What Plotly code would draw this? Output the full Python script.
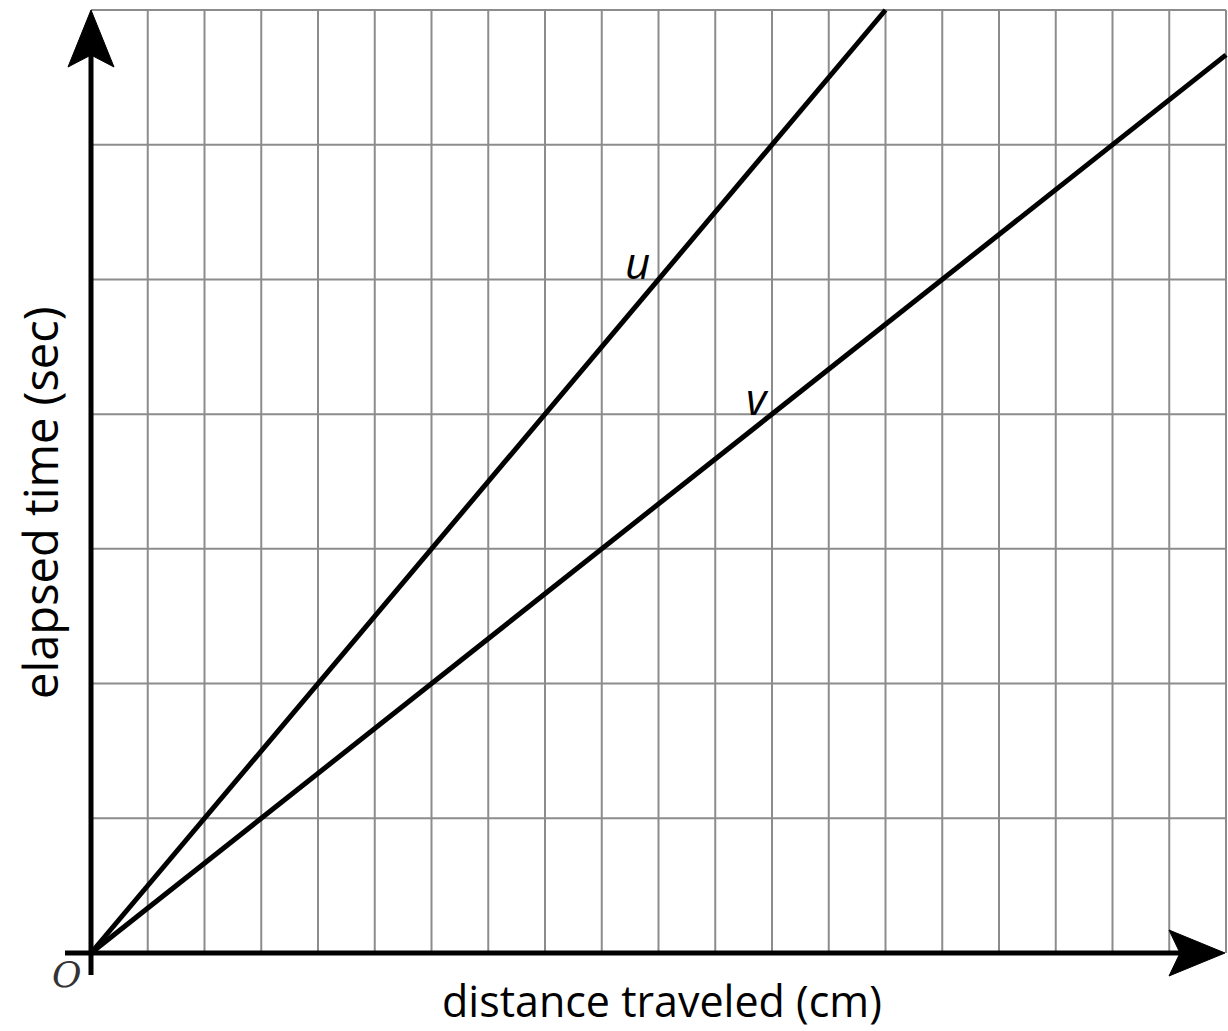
import plotly.graph_objects as go

# Data
distance_u = [0, 14]
time_u = [0, 7]
distance_v = [0, 20]
time_v = [0, 20 / 3]
x_max = 20
y_max = 7
line_labels = ["u", "v"]
label_px = [(637, 262), (757, 398)]

W, H = 1228, 1031
# pixel mapping (reference pixels)
x0_px, x1_px = 91, 1226
y0_px, y1_px = 953, 10
xu = (x1_px - x0_px) / x_max
yu = (y0_px - y1_px) / y_max
x_range = [-x0_px / xu, (W - x0_px) / xu]
y_range = [-(H - y0_px) / yu, y0_px / yu]


def dx(p):
    return (p - x0_px) / xu


def dy(p):
    return (y0_px - p) / yu


fig = go.Figure()

shapes = []
grid_color = "#8c8c8c"
for i in range(1, x_max + 1):
    shapes.append(dict(type="line", x0=i, x1=i, y0=0, y1=y_max, xref="x", yref="y",
                       line=dict(color=grid_color, width=2), layer="below"))
for j in range(1, y_max + 1):
    shapes.append(dict(type="line", x0=0, x1=x_max, y0=j, y1=j, xref="x", yref="y",
                       line=dict(color=grid_color, width=2), layer="below"))

px = lambda p: p / xu
py = lambda p: p / yu
shapes.append(dict(type="line", x0=dx(65), x1=dx(1185), y0=0, y1=0,
                   line=dict(color="black", width=5)))
shapes.append(dict(type="line", x0=0, x1=0, y0=dy(975), y1=dy(50),
                   line=dict(color="black", width=5)))
# arrowheads
tipx = dx(1225)
shapes.append(dict(type="path",
                   path=f"M {tipx} 0 L {dx(1169)} {py(23)} L {dx(1180)} 0 L {dx(1169)} {-py(23)} Z",
                   fillcolor="black", line=dict(color="black", width=1)))
shapes.append(dict(type="path",
                   path=f"M 0 {dy(10)} L {-px(23)} {dy(67)} L 0 {dy(55)} L {px(23)} {dy(67)} Z",
                   fillcolor="black", line=dict(color="black", width=1)))

fig.add_trace(go.Scatter(x=distance_u, y=time_u, mode="lines",
                         line=dict(color="black", width=5), showlegend=False, hoverinfo="skip"))
fig.add_trace(go.Scatter(x=distance_v, y=time_v, mode="lines",
                         line=dict(color="black", width=5), showlegend=False, hoverinfo="skip"))

annotations = []
for lab, (lx, ly) in zip(line_labels, label_px):
    annotations.append(dict(x=dx(lx), y=dy(ly), text=f"<i>{lab}</i>", showarrow=False,
                            font=dict(family="Open Sans", size=44, color="black"),
                            xanchor="center", yanchor="middle"))
annotations.append(dict(x=dx(67), y=dy(974), text="<i>O</i>", showarrow=False,
                        font=dict(family="DejaVu Serif", size=36, color="#333"),
                        xanchor="center", yanchor="middle"))
annotations.append(dict(x=dx(662), y=dy(1000), text="distance traveled (cm)",
                        showarrow=False, font=dict(family="Open Sans", size=43, color="black"),
                        xanchor="center", yanchor="middle"))
annotations.append(dict(x=dx(40), y=dy(503), text="elapsed time (sec)",
                        showarrow=False, textangle=-90,
                        font=dict(family="Open Sans", size=47, color="black"),
                        xanchor="center", yanchor="middle"))

fig.update_layout(
    width=W, height=H,
    margin=dict(l=0, r=0, t=0, b=0),
    paper_bgcolor="white", plot_bgcolor="white",
    xaxis=dict(range=x_range, visible=False, fixedrange=True),
    yaxis=dict(range=y_range, visible=False, fixedrange=True),
    shapes=shapes, annotations=annotations,
)

fig.write_html("out.html",
               config={"displayModeBar": False, "staticPlot": True},
               post_script="document.body.style.margin='0';document.body.style.overflow='hidden';")
